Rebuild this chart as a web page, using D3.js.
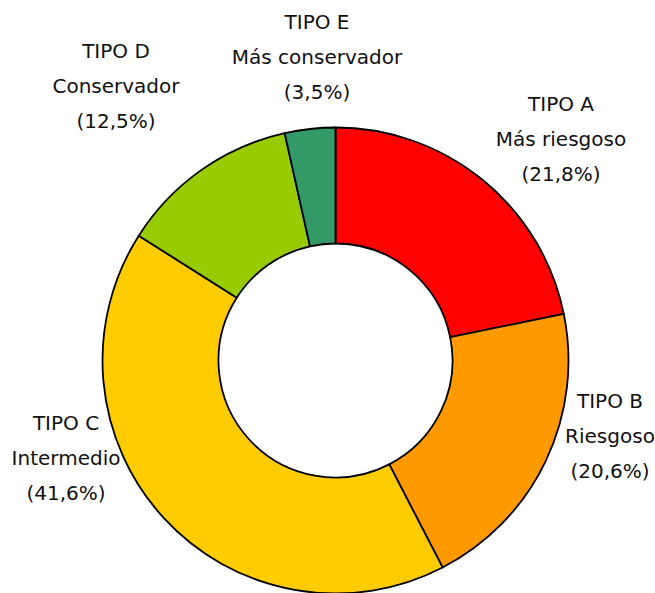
<!DOCTYPE html>
<html>
<head>
<meta charset="utf-8">
<script src="https://cdn.jsdelivr.net/npm/d3@7"></script>
<style>
  body { margin: 0; background: #fff; }
  .lbl { font-family: "DejaVu Sans", sans-serif; font-size: 20px; fill: #111; }
</style>
</head>
<body>
<div class="chart"></div>
<script>
// Donut chart - tipos de fondo

var tipos = ["TIPO A", "TIPO B", "TIPO C", "TIPO D", "TIPO E"];
var descripciones = ["Más riesgoso", "Riesgoso", "Intermedio", "Conservador", "Más conservador"];
var porcentajes = [21.8, 20.6, 41.6, 12.5, 3.5];
var colores = ["#FF0000", "#FF9900", "#FFCC00", "#99CC00", "#339966"];

// label placement (centre x, first baseline y)
var labelPos = [[561, 111], [610, 408], [66, 430], [116, 58], [317, 29]];

var svgWidth = 655;
var svgHeight = 593;
var cx = 335.5, cy = 360.5;
var outerR = 233, innerR = 117;

var svg = d3.select(".chart")
  .append("svg")
  .attr("width", svgWidth)
  .attr("height", svgHeight);

var data = tipos.map(function(t, i) {
  return { tipo: t, desc: descripciones[i], value: porcentajes[i], color: colores[i] };
});

var pie = d3.pie()
  .value(d => d.value)
  .sort(null);

var arc = d3.arc()
  .innerRadius(innerR)
  .outerRadius(outerR);

var chartGroup = svg.append("g")
  .attr("transform", `translate(${cx}, ${cy})`);

chartGroup.selectAll("path")
  .data(pie(data))
  .enter()
  .append("path")
  .attr("d", arc)
  .attr("fill", d => d.data.color)
  .attr("stroke", "#000")
  .attr("stroke-width", 1.8)
  .attr("stroke-linejoin", "round");

// labels
var fmt = v => "(" + v.toFixed(1).replace(".", ",") + "%)";

var labels = svg.selectAll("text.lbl")
  .data(data)
  .enter()
  .append("text")
  .attr("class", "lbl")
  .attr("text-anchor", "middle");

labels.each(function(d, i) {
  var t = d3.select(this);
  var lines = [d.tipo, d.desc, fmt(d.value)];
  lines.forEach(function(line, j) {
    t.append("tspan")
      .attr("x", labelPos[i][0])
      .attr("y", labelPos[i][1] + j * 35)
      .text(line);
  });
});
</script>
</body>
</html>
